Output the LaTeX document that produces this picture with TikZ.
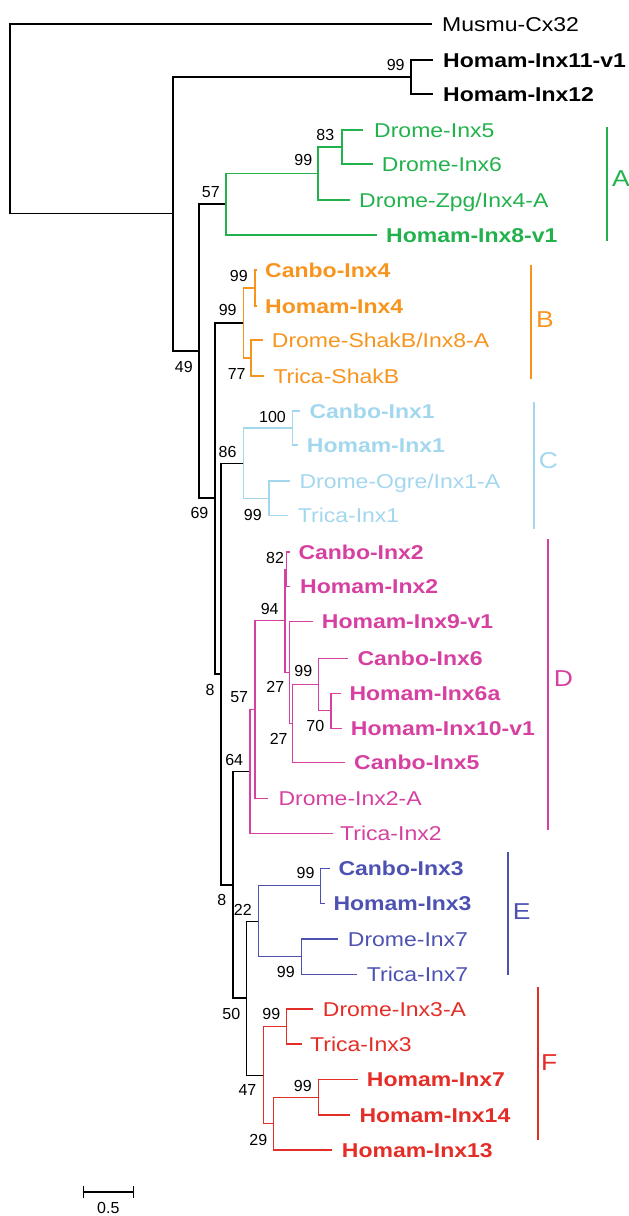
\documentclass[tikz,border=0pt]{standalone}
\usepackage{fontspec}
\usetikzlibrary{calc}
\setmainfont{Liberation Sans}[FakeStretch=1.15]
\newfontfamily\numfont{Liberation Sans}
\definecolor{cA}{RGB}{34,177,76}
\definecolor{cB}{RGB}{247,148,30}
\definecolor{cC}{RGB}{163,215,238}
\definecolor{cD}{RGB}{214,64,160}
\definecolor{cE}{RGB}{77,82,178}
\definecolor{cF}{RGB}{228,45,38}
\begin{document}
\begin{tikzpicture}[x=1pt,y=-1pt,
  br/.style={line width=1.3pt},
  lf/.style={anchor=base west, yshift=-7.2pt, inner sep=0pt, font=\fontsize{20}{24}\selectfont},
  blf/.style={lf, font=\fontsize{20}{24}\selectfont\bfseries},
  bs/.style={inner sep=0pt, font=\numfont\fontsize{16}{18}\selectfont},
  cladebar/.style={line width=2pt},
  cl/.style={inner sep=0pt, font=\fontsize{23}{26}\selectfont}]
\useasboundingbox (0,0) rectangle (629,1216);
% internal nodes
\coordinate (R) at (10,118.5);
\coordinate (N1) at (173,213.5);
\coordinate (N2) at (411,77);
\coordinate (N3) at (199,351);
\coordinate (NA) at (226,204);
\coordinate (NA1) at (318,173.5);
\coordinate (NA2) at (342,147);
\coordinate (N4) at (215,498);
\coordinate (NB) at (243.3,323);
\coordinate (NB1) at (255,288);
\coordinate (NB2) at (251,358);
\coordinate (N5) at (221,674);
\coordinate (NC) at (243.3,463.3);
\coordinate (NC1) at (292.7,428);
\coordinate (NC2) at (269,498.3);
\coordinate (N6) at (233,885);
\coordinate (ND) at (250,771.5);
\coordinate (ND1) at (255,709.4);
\coordinate (ND2) at (285,620.7);
\coordinate (ND3) at (286.7,569.3);
\coordinate (ND4) at (289.3,672.2);
\coordinate (ND5) at (292.7,723.2);
\coordinate (ND6) at (318.3,684.5);
\coordinate (ND7) at (331,710.8);
\coordinate (N7) at (246.7,998);
\coordinate (NE) at (258.3,921.3);
\coordinate (NE1) at (320.7,885.8);
\coordinate (NE2) at (301.7,956.7);
\coordinate (NF) at (263.3,1075.3);
\coordinate (NF1) at (286.7,1026.5);
\coordinate (NF2) at (273.3,1123.7);
\coordinate (NF3) at (318.3,1097.2);
% leaves: black
\coordinate (l1) at (432,24);   \node[lf] (t1) at (442,24) {Musmu-Cx32};
\coordinate (l2) at (433,60);   \node[blf] (t2) at (443,60) {Homam-Inx11-v1};
\coordinate (l3) at (433,94);   \node[blf] (t3) at (443,94) {Homam-Inx12};
% A
\begin{scope}[text=cA]
\coordinate (a1) at (363,130);   \node[lf] (ta1) at (374,130) {Drome-Inx5};
\coordinate (a2) at (372.7,164); \node[lf] (ta2) at (381.7,164) {Drome-Inx6};
\coordinate (a3) at (350,200);   \node[lf] (ta3) at (359,200) {Drome-Zpg/Inx4-A};
\coordinate (a4) at (376.7,235); \node[blf] (ta4) at (386,235) {Homam-Inx8-v1};
\end{scope}
% B
\begin{scope}[text=cB]
\coordinate (b1) at (257.3,270); \node[blf] (tb1) at (265,270) {Canbo-Inx4};
\coordinate (b2) at (257.3,306); \node[blf] (tb2) at (265,306) {Homam-Inx4};
\coordinate (b3) at (263.3,340); \node[lf] (tb3) at (271.7,340) {Drome-ShakB/Inx8-A};
\coordinate (b4) at (264,376);   \node[lf] (tb4) at (273.3,376) {Trica-ShakB};
\end{scope}
% C
\begin{scope}[text=cC]
\coordinate (c1) at (300,411);   \node[blf] (tc1) at (309.3,411) {Canbo-Inx1};
\coordinate (c2) at (298.3,445); \node[blf] (tc2) at (306.7,445) {Homam-Inx1};
\coordinate (c3) at (290,481);   \node[lf] (tc3) at (299.3,481) {Drome-Ogre/Inx1-A};
\coordinate (c4) at (288.3,515.7); \node[lf] (tc4) at (297.7,515.7) {Trica-Inx1};
\end{scope}
% D
\begin{scope}[text=cD]
\coordinate (d1) at (290,552);   \node[blf] (td1) at (298.3,552) {Canbo-Inx2};
\coordinate (d2) at (290,586.7); \node[blf] (td2) at (300,586.7) {Homam-Inx2};
\coordinate (d3) at (313.3,621.7); \node[blf] (td3) at (321.7,621.7) {Homam-Inx9-v1};
\coordinate (d4) at (348.3,658.3); \node[blf] (td4) at (357.3,658.3) {Canbo-Inx6};
\coordinate (d5) at (340.7,693.3); \node[blf] (td5) at (349.3,693.3) {Homam-Inx6a};
\coordinate (d6) at (341.7,728.3); \node[blf] (td6) at (350.7,728.3) {Homam-Inx10-v1};
\coordinate (d7) at (345,762.3);   \node[blf] (td7) at (354,762.3) {Canbo-Inx5};
\coordinate (d8) at (268.3,798.3); \node[lf] (td8) at (278.3,798.3) {Drome-Inx2-A};
\coordinate (d9) at (332.7,833.3); \node[lf] (td9) at (340,833.3) {Trica-Inx2};
\end{scope}
% E
\begin{scope}[text=cE]
\coordinate (e1) at (330,868.3);   \node[blf] (te1) at (338.3,868.3) {Canbo-Inx3};
\coordinate (e2) at (325,903.3);   \node[blf] (te2) at (333.3,903.3) {Homam-Inx3};
\coordinate (e3) at (338.3,939);   \node[lf] (te3) at (347.7,939) {Drome-Inx7};
\coordinate (e4) at (356.7,974.3); \node[lf] (te4) at (366.7,974.3) {Trica-Inx7};
\end{scope}
% F
\begin{scope}[text=cF]
\coordinate (f1) at (313.3,1009);  \node[lf] (tf1) at (322.7,1009) {Drome-Inx3-A};
\coordinate (f2) at (301.7,1044);  \node[lf] (tf2) at (310,1044) {Trica-Inx3};
\coordinate (f3) at (358.3,1079.3); \node[blf] (tf3) at (366.7,1079.3) {Homam-Inx7};
\coordinate (f4) at (350,1115);    \node[blf] (tf4) at (359.3,1115) {Homam-Inx14};
\coordinate (f5) at (331.7,1150);  \node[blf] (tf5) at (341.7,1150) {Homam-Inx13};
\end{scope}
% branches
\draw[br] (R) |- (l1) (R) |- (N1) (N1) |- (N2) (N1) |- (N3)
  (N2) |- (l2) (N2) |- (l3) (N3) |- (NA) (N3) |- (N4)
  (N4) |- (NB) (N4) |- (N5) (N5) |- (NC) (N5) |- (N6)
  (N6) |- (ND) (N6) |- (N7) (N7) |- (NE) (N7) |- (NF);
\draw[br,cA] (NA) |- (NA1) (NA) |- (a4) (NA1) |- (NA2) (NA1) |- (a3)
  (NA2) |- (a1) (NA2) |- (a2);
\draw[br,cB] (NB) |- (NB1) (NB) |- (NB2) (NB1) |- (b1) (NB1) |- (b2)
  (NB2) |- (b3) (NB2) |- (b4);
\draw[br,cC] (NC) |- (NC1) (NC) |- (NC2) (NC1) |- (c1) (NC1) |- (c2)
  (NC2) |- (c3) (NC2) |- (c4);
\draw[br,cD] (ND) |- (ND1) (ND) |- (d9) (ND1) |- (ND2) (ND1) |- (d8)
  (ND2) |- (ND3) (ND2) |- (ND4) (ND3) |- (d1) (ND3) |- (d2)
  (ND4) |- (d3) (ND4) |- (ND5) (ND5) |- (ND6) (ND5) |- (d7)
  (ND6) |- (d4) (ND6) |- (ND7) (ND7) |- (d5) (ND7) |- (d6);
\draw[br,cE] (NE) |- (NE1) (NE) |- (NE2) (NE1) |- (e1) (NE1) |- (e2)
  (NE2) |- (e3) (NE2) |- (e4);
\draw[br,cF] (NF) |- (NF1) (NF) |- (NF2) (NF1) |- (f1) (NF1) |- (f2)
  (NF2) |- (NF3) (NF2) |- (f5) (NF3) |- (f3) (NF3) |- (f4);
% bootstrap values
\node[bs] (v1) at (395.7,65) {99};
\node[bs] (v2) at (210.8,191.7) {57};
\node[bs] (v3) at (303.3,160.3) {99};
\node[bs] (v4) at (325.3,134.5) {83};
\node[bs] (v5) at (183.8,366.8) {49};
\node[bs] (v6) at (238.8,275.8) {99};
\node[bs] (v7) at (227.7,310) {99};
\node[bs] (v8) at (236.7,374) {77};
\node[bs] (v9) at (272.5,416.7) {100};
\node[bs] (v10) at (227.5,451.7) {86};
\node[bs] (v11) at (199.5,513.3) {69};
\node[bs] (v12) at (252.8,515) {99};
\node[bs] (v13) at (275,557.5) {82};
\node[bs] (v14) at (269.7,608.8) {94};
\node[bs] (v15) at (210,690) {8};
\node[bs] (v16) at (239.2,697.5) {57};
\node[bs] (v17) at (275.3,687) {27};
\node[bs] (v18) at (303.3,671) {99};
\node[bs] (v19) at (315.3,725.8) {70};
\node[bs] (v20) at (278.7,738.8) {27};
\node[bs] (v21) at (234.2,760) {64};
\node[bs] (v22) at (305.5,873.3) {99};
\node[bs] (v23) at (221.8,899.7) {8};
\node[bs] (v24) at (242.8,909.7) {22};
\node[bs] (v25) at (285.8,971.7) {99};
\node[bs] (v26) at (231.3,1013.7) {50};
\node[bs] (v27) at (271.3,1014.2) {99};
\node[bs] (v28) at (247.5,1090.3) {47};
\node[bs] (v29) at (302.8,1085.5) {99};
\node[bs] (v30) at (258.3,1140) {29};
% clade bars
\draw[cladebar,cA] (607,127) -- (607,241);
\node[cl,text=cA] (LA) at (621,179) {A};
\draw[cladebar,cB] (531,265) -- (531,379.3);
\node[cl,text=cB] (LB) at (545,319.2) {B};
\draw[cladebar,cC] (534.3,401.7) -- (534.3,529.3);
\node[cl,text=cC] (LC) at (548.3,460.5) {C};
\draw[cladebar,cD] (547.7,539.3) -- (547.7,830);
\node[cl,text=cD] (LD) at (563.3,678.7) {D};
\draw[cladebar,cE] (508.3,851.7) -- (508.3,975);
\node[cl,text=cE] (LE) at (521.7,911.7) {E};
\draw[cladebar,cF] (537.7,986.7) -- (537.7,1140);
\node[cl,text=cF] (LF) at (549.3,1062.8) {F};
% scale bar
\coordinate (s1) at (83.3,1192);
\coordinate (s2) at (133.3,1192);
\draw[line width=1.2pt] (s1) -- (s2);
\draw[line width=1.2pt] ($(s1)+(0,-6)$) -- ($(s1)+(0,6)$);
\draw[line width=1.2pt] ($(s2)+(0,-6)$) -- ($(s2)+(0,6)$);
\node[bs] (sl) at (108.3,1208) {0.5};
\end{tikzpicture}
\end{document}
